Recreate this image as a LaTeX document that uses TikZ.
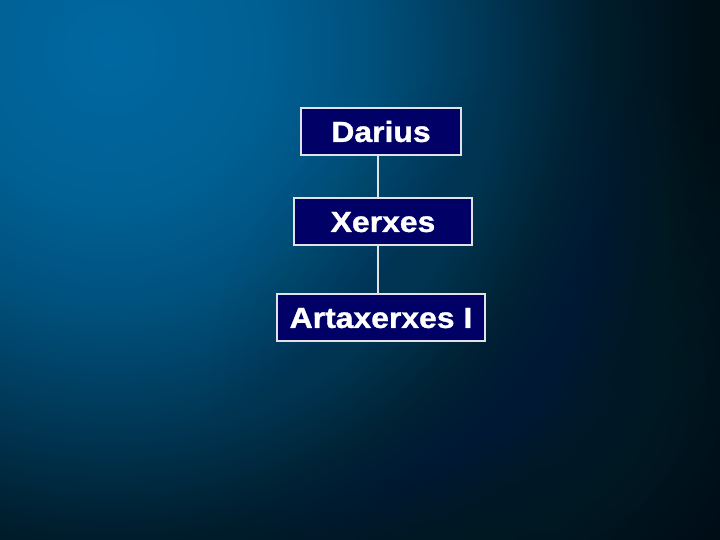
\documentclass[tikz,border=0pt]{standalone}
\usepackage{fontspec}
\newfontfamily\boxfont{Liberation Sans}[FakeStretch=1.1,FakeBold=1.2]
\definecolor{navy}{RGB}{0,0,102}
\definecolor{frame}{RGB}{225,225,230}
\definecolor{glowc}{RGB}{0,52,80}
\definecolor{bgdark}{RGB}{0,6,10}
\pgfdeclareradialshading{bgshade}{\pgfpoint{0bp}{0bp}}{%
  color(0bp)=(rgb,255:red,0;green,104;blue,160);
  color(9.4bp)=(rgb,255:red,0;green,96;blue,148);
  color(16.25bp)=(rgb,255:red,0;green,80;blue,124);
  color(23.1bp)=(rgb,255:red,0;green,56;blue,87);
  color(30bp)=(rgb,255:red,0;green,30;blue,46);
  color(37.5bp)=(rgb,255:red,0;green,14;blue,21);
  color(46.9bp)=(rgb,255:red,0;green,7;blue,11);
  color(50bp)=(rgb,255:red,0;green,6;blue,10)}
\tikzset{
  person/.style={draw=frame, line width=2pt, fill=navy, text=white,
    font=\boxfont\bfseries\fontsize{29}{29}\selectfont,
    text height=20.8pt, text depth=0pt, inner sep=0pt,
    minimum height=47pt},
  conn/.style={draw=frame, line width=1.4pt},
  glowring/.style={fill=glowc, opacity=0.035}
}
\begin{document}
\begin{tikzpicture}[x=1pt,y=-1pt]
\useasboundingbox (0,0) rectangle (720,540);
\begin{scope}
  \clip (0,0) rectangle (720,540);
  \fill[bgdark] (0,0) rectangle (720,540);
  \pgflowlevelobj{\pgftransformshift{\pgfpoint{110bp}{-50bp}}\pgftransformscale{16}}{\pgftext{\pgfuseshading{bgshade}}}
  \foreach \r in {16,32,...,320} \fill[glowring] (530,390) circle (\r);
\end{scope}
\node[person, minimum width=160pt] (d) at (381,131.5) {Darius};
\node[person, minimum width=178pt] (x) at (383,221.5) {Xerxes};
\node[person, minimum width=208pt] (a) at (381,317.5) {Artaxerxes I};
\coordinate (lx) at (378,0);
\draw[conn] (d.south -| lx) -- (x.north -| lx);
\draw[conn] (x.south -| lx) -- (a.north -| lx);
\end{tikzpicture}
\end{document}
